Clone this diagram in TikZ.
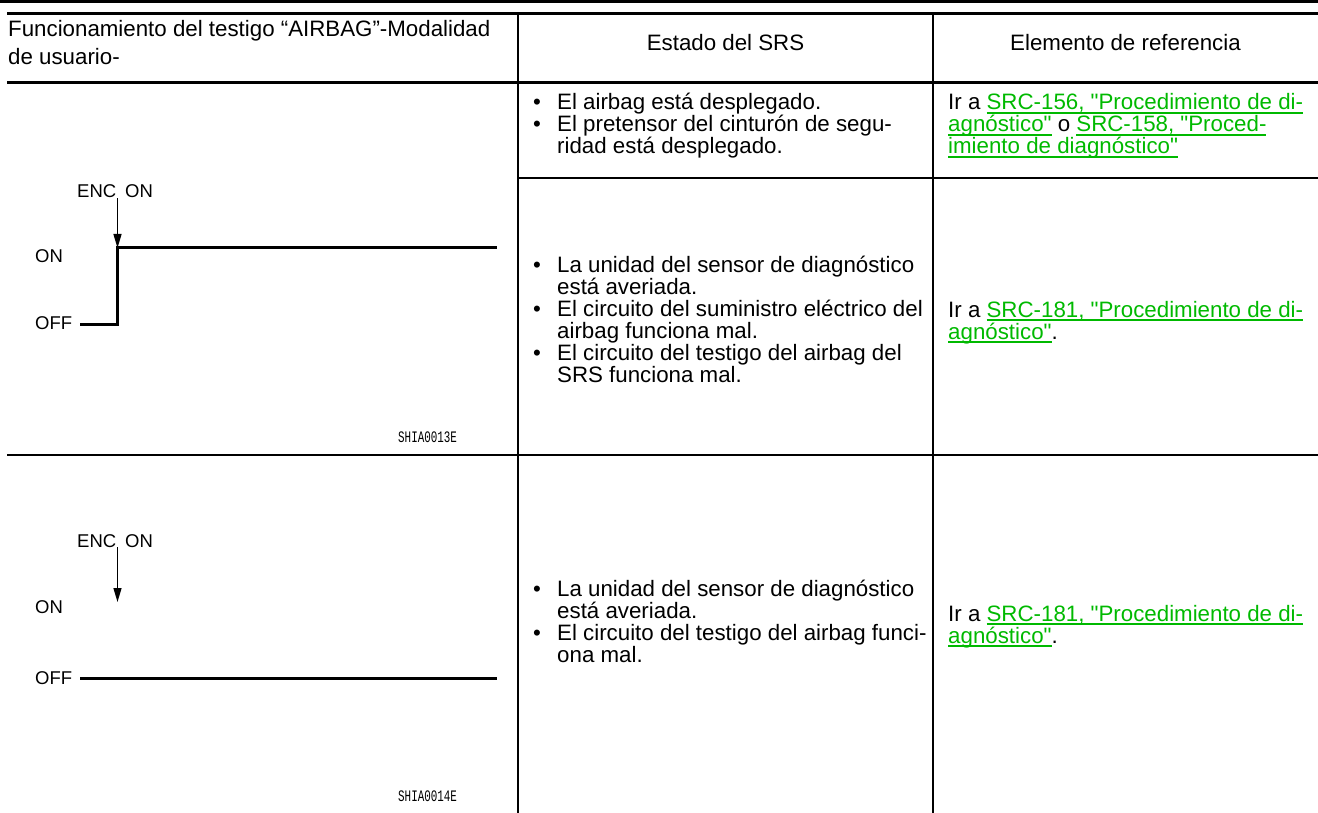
\documentclass[tikz,border=0pt]{standalone}
\usepackage{fontspec}
\setmainfont{Liberation Sans}[Ligatures=TeXOff]
\newfontfamily\tagfont{Liberation Mono}
\usetikzlibrary{arrows.meta}

\definecolor{linkgreen}{RGB}{0,185,0}
\newcommand{\lnk}[1]{{\color{linkgreen}\setbox0\hbox{#1}\rlap{\rule[-3.6pt]{\wd0}{1.7pt}}\box0}}
\newcommand{\itm}{\makebox[24pt][l]{\textbullet}}
\newcommand{\ind}{\hspace*{24pt}}

% multi-line nodes sit on the baseline of their last line
\tikzstyle{txt}=[anchor=base west,align=left,inner sep=0pt,font=\fontsize{22.3}{22}\selectfont]
\tikzstyle{hdr}=[anchor=base,inner sep=0pt,font=\fontsize{22.3}{28}\selectfont]
\tikzstyle{lvl}=[anchor=base west,inner sep=0pt,font=\fontsize{18.5}{18.5}\selectfont]
\tikzstyle{imgtag}=[anchor=base west,inner sep=0pt,font=\tagfont\fontsize{16}{16}\selectfont]
\tikzstyle{gridline}=[line width=1.5pt]
\tikzstyle{wave}=[line width=3pt]
\tikzstyle{pointer}=[line width=1.3pt,-{Triangle[length=14pt,width=8pt]}]

\begin{document}
\begin{tikzpicture}[x=1pt,y=-1pt]
    \useasboundingbox (0,0) rectangle (1318,813);

    % table rules
    \draw[line width=3.5pt] (0,1.75) -- (1318,1.75);
    \draw[line width=3pt] (7,13.3) -- (1318,13.3);
    \draw[line width=2.5pt] (7,82.5) -- (1318,82.5);
    \draw[gridline] (518,178) -- (1318,178);
    \draw[gridline] (7,455) -- (1318,455);
    \draw[gridline] (518,13.3) -- (518,813);
    \draw[gridline] (933,13.3) -- (933,813);

    % header
    \node[txt,font=\fontsize{22.3}{28}\selectfont] (h1) at (8,65) {Funcionamiento del testigo “AIRBAG”-Modalidad\\de usuario-};
    \node[hdr] (h2) at (725.5,51) {Estado del SRS};
    \node[hdr] (h3) at (1125.5,51) {Elemento de referencia};

    % row 1
    \node[txt] (s1) at (533,154) {\itm El airbag está desplegado.\\
        \itm El pretensor del cinturón de segu-\\
        \ind ridad está desplegado.};
    \node[txt] (r1) at (948,154) {Ir a \lnk{SRC-156, "Procedimiento de di-}\\
        \lnk{agnóstico"} o \lnk{SRC-158, "Proced-}\\
        \lnk{imiento de diagnóstico"}};
    \node[txt] (s2) at (533,382) {\itm La unidad del sensor de diagnóstico\\
        \ind está averiada.\\
        \itm El circuito del suministro eléctrico del\\
        \ind airbag funciona mal.\\
        \itm El circuito del testigo del airbag del\\
        \ind SRS funciona mal.};
    \node[txt] (r2) at (948,339) {Ir a \lnk{SRC-181, "Procedimiento de di-}\\
        \lnk{agnóstico"}.};

    % row 2
    \node[txt] (s3) at (533,662) {\itm La unidad del sensor de diagnóstico\\
        \ind está averiada.\\
        \itm El circuito del testigo del airbag funci-\\
        \ind ona mal.};
    \node[txt] (r3) at (948,643) {Ir a \lnk{SRC-181, "Procedimiento de di-}\\
        \lnk{agnóstico"}.};

    % lamp chart 1
    \node[lvl] (enc1) at (77,198) {ENC\hspace{9pt}ON};
    \node[lvl] (on1) at (35,262) {ON};
    \node[lvl] (off1) at (35,330) {OFF};
    \node[imgtag] (tag1) at (398,442) {\scalebox{0.68}[1]{SHIA0013E}};
    \coordinate (lo1) at (80,324);
    \coordinate (up1) at (117.5,248);
    \coordinate (hi1) at (497,248);
    \draw[wave] (lo1) -| (up1) -- (hi1);
    \draw[pointer] (enc1.south -| up1) -- (up1);

    % lamp chart 2
    \node[lvl] (enc2) at (77,547) {ENC\hspace{9pt}ON};
    \node[lvl] (on2) at (35,613) {ON};
    \node[lvl] (off2) at (35,684) {OFF};
    \node[imgtag] (tag2) at (398,801) {\scalebox{0.68}[1]{SHIA0014E}};
    \coordinate (tip2) at (117.5,602);
    \coordinate (lo2) at (80,678);
    \coordinate (hi2) at (497,678);
    \draw[wave] (lo2) -- (hi2);
    \draw[pointer] (enc2.south -| tip2) -- (tip2);
\end{tikzpicture}
\end{document}
